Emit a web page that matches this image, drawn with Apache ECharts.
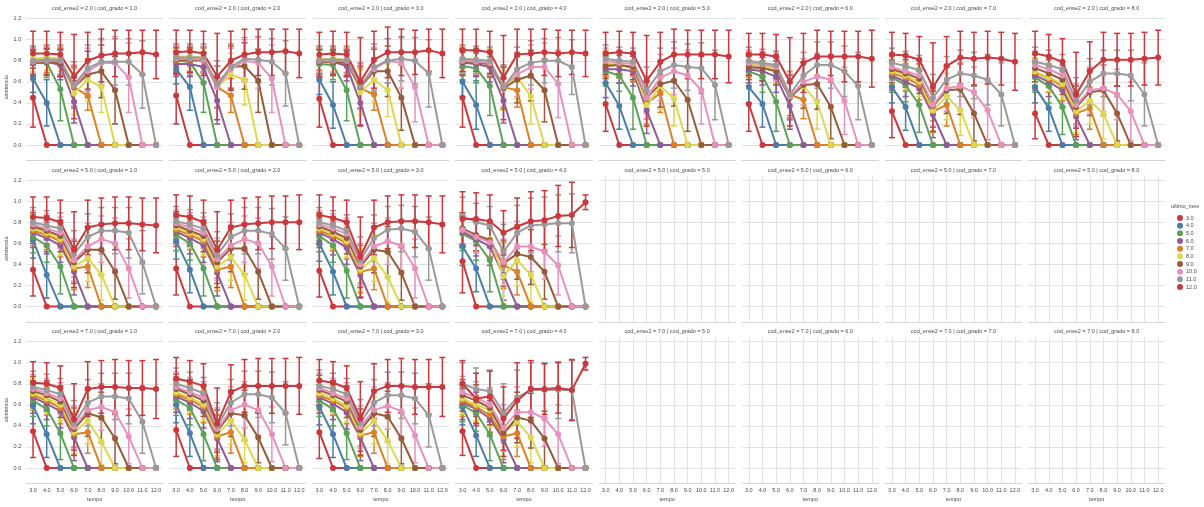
<!DOCTYPE html>
<html>
<head>
<meta charset="utf-8">
<script src="https://cdn.jsdelivr.net/npm/echarts@6/dist/echarts.min.js"></script>
<style>
html, body { margin: 0; padding: 0; background: #ffffff; }
#chart { width: 1204px; height: 507px; }
</style>
</head>
<body>
<div id="chart"></div>
<script>
// x categories (tempo) and tick values
const tempo = [3, 4, 5, 6, 7, 8, 9, 10, 11, 12];
const yTicks = [0, 0.2, 0.4, 0.6, 0.8, 1.0, 1.2];
// hue levels (ultimo_mes)
const hueLevels = ['3.0', '4.0', '5.0', '6.0', '7.0', '8.0', '9.0', '10.0', '11.0', '12.0'];
// facet levels
const enseLevels = ['2.0', '5.0', '7.0'];
const gradoLevels = ['1.0', '2.0', '3.0', '4.0', '5.0', '6.0', '7.0', '8.0'];

// Mean asistencia per hue level (rows: ultimo_mes 3..12, cols: tempo 3..12)
// and half-width of the confidence interval for each non-zero mean.
const mean_2_1 = [
  [0.45, 0, 0, 0, 0, 0, 0, 0, 0, 0],
  [0.63, 0.40, 0, 0, 0, 0, 0, 0, 0, 0],
  [0.78, 0.78, 0.53, 0, 0, 0, 0, 0, 0, 0],
  [0.78, 0.79, 0.76, 0.41, 0, 0, 0, 0, 0, 0],
  [0.80, 0.81, 0.79, 0.55, 0.47, 0, 0, 0, 0, 0],
  [0.82, 0.83, 0.82, 0.49, 0.62, 0.55, 0, 0, 0, 0],
  [0.78, 0.79, 0.78, 0.55, 0.67, 0.70, 0.52, 0, 0, 0],
  [0.79, 0.80, 0.80, 0.56, 0.70, 0.78, 0.78, 0.64, 0, 0],
  [0.80, 0.81, 0.81, 0.57, 0.73, 0.79, 0.79, 0.79, 0.67, 0],
  [0.87, 0.87, 0.86, 0.65, 0.80, 0.85, 0.87, 0.87, 0.88, 0.86]
];
const err_2_1 = [
  [0.28],
  [0.13, 0.22],
  [0.13, 0.14, 0.30],
  [0.12, 0.12, 0.14, 0.20],
  [0.12, 0.12, 0.13, 0.18, 0.14],
  [0.12, 0.12, 0.12, 0.20, 0.20, 0.24],
  [0.12, 0.12, 0.13, 0.20, 0.22, 0.25, 0.32],
  [0.13, 0.13, 0.13, 0.20, 0.22, 0.22, 0.25, 0.33],
  [0.14, 0.14, 0.14, 0.22, 0.22, 0.22, 0.22, 0.22, 0.32],
  [0.21, 0.21, 0.21, 0.40, 0.27, 0.25, 0.22, 0.22, 0.21, 0.23]
];

const mean_2_2 = [
  [0.47, 0, 0, 0, 0, 0, 0, 0, 0, 0],
  [0.72, 0.55, 0, 0, 0, 0, 0, 0, 0, 0],
  [0.80, 0.79, 0.59, 0, 0, 0, 0, 0, 0, 0],
  [0.77, 0.77, 0.74, 0.42, 0, 0, 0, 0, 0, 0],
  [0.80, 0.80, 0.80, 0.55, 0.47, 0, 0, 0, 0, 0],
  [0.84, 0.84, 0.83, 0.55, 0.67, 0.62, 0, 0, 0, 0],
  [0.81, 0.81, 0.81, 0.55, 0.74, 0.75, 0.61, 0, 0, 0],
  [0.82, 0.82, 0.81, 0.55, 0.72, 0.80, 0.78, 0.63, 0, 0],
  [0.83, 0.83, 0.83, 0.58, 0.74, 0.82, 0.81, 0.79, 0.68, 0],
  [0.88, 0.89, 0.87, 0.65, 0.80, 0.86, 0.88, 0.88, 0.89, 0.87]
];
const err_2_2 = [
  [0.27],
  [0.14, 0.22],
  [0.12, 0.13, 0.28],
  [0.12, 0.12, 0.14, 0.22],
  [0.12, 0.12, 0.12, 0.20, 0.16],
  [0.11, 0.11, 0.11, 0.20, 0.20, 0.24],
  [0.12, 0.12, 0.12, 0.20, 0.20, 0.22, 0.30],
  [0.12, 0.12, 0.12, 0.20, 0.20, 0.20, 0.24, 0.32],
  [0.13, 0.13, 0.13, 0.22, 0.22, 0.20, 0.22, 0.22, 0.31],
  [0.21, 0.20, 0.21, 0.41, 0.28, 0.24, 0.22, 0.22, 0.21, 0.23]
];

const mean_2_3 = [
  [0.44, 0, 0, 0, 0, 0, 0, 0, 0, 0],
  [0.62, 0.38, 0, 0, 0, 0, 0, 0, 0, 0],
  [0.77, 0.76, 0.52, 0, 0, 0, 0, 0, 0, 0],
  [0.79, 0.79, 0.75, 0.40, 0, 0, 0, 0, 0, 0],
  [0.80, 0.80, 0.78, 0.54, 0.48, 0, 0, 0, 0, 0],
  [0.82, 0.82, 0.81, 0.50, 0.62, 0.52, 0, 0, 0, 0],
  [0.79, 0.79, 0.78, 0.55, 0.70, 0.70, 0.45, 0, 0, 0],
  [0.80, 0.80, 0.80, 0.56, 0.72, 0.80, 0.78, 0.55, 0, 0],
  [0.81, 0.81, 0.81, 0.56, 0.74, 0.80, 0.82, 0.80, 0.68, 0],
  [0.86, 0.87, 0.86, 0.60, 0.81, 0.88, 0.88, 0.88, 0.90, 0.87]
];
const err_2_3 = [
  [0.27],
  [0.14, 0.22],
  [0.13, 0.14, 0.29],
  [0.12, 0.12, 0.14, 0.21],
  [0.12, 0.12, 0.13, 0.19, 0.15],
  [0.12, 0.12, 0.12, 0.21, 0.21, 0.25],
  [0.12, 0.12, 0.12, 0.20, 0.21, 0.24, 0.31],
  [0.12, 0.12, 0.12, 0.21, 0.21, 0.21, 0.24, 0.33],
  [0.13, 0.13, 0.13, 0.22, 0.22, 0.21, 0.21, 0.22, 0.32],
  [0.21, 0.21, 0.21, 0.42, 0.27, 0.24, 0.22, 0.21, 0.20, 0.23]
];

const mean_2_4 = [
  [0.45, 0, 0, 0, 0, 0, 0, 0, 0, 0],
  [0.60, 0.38, 0, 0, 0, 0, 0, 0, 0, 0],
  [0.75, 0.73, 0.56, 0, 0, 0, 0, 0, 0, 0],
  [0.78, 0.77, 0.74, 0.42, 0, 0, 0, 0, 0, 0],
  [0.80, 0.79, 0.77, 0.55, 0.52, 0, 0, 0, 0, 0],
  [0.82, 0.81, 0.79, 0.53, 0.65, 0.46, 0, 0, 0, 0],
  [0.79, 0.78, 0.77, 0.54, 0.62, 0.66, 0.52, 0, 0, 0],
  [0.80, 0.79, 0.78, 0.56, 0.67, 0.74, 0.74, 0.58, 0, 0],
  [0.82, 0.81, 0.80, 0.55, 0.72, 0.78, 0.80, 0.80, 0.74, 0],
  [0.90, 0.90, 0.88, 0.64, 0.86, 0.87, 0.88, 0.87, 0.88, 0.87]
];
const err_2_4 = [
  [0.28],
  [0.14, 0.23],
  [0.13, 0.14, 0.28],
  [0.12, 0.12, 0.14, 0.21],
  [0.12, 0.12, 0.13, 0.19, 0.16],
  [0.12, 0.12, 0.12, 0.20, 0.21, 0.26],
  [0.12, 0.12, 0.12, 0.20, 0.22, 0.24, 0.30],
  [0.12, 0.12, 0.12, 0.20, 0.21, 0.21, 0.23, 0.32],
  [0.13, 0.13, 0.13, 0.21, 0.21, 0.21, 0.21, 0.22, 0.26],
  [0.20, 0.20, 0.20, 0.40, 0.24, 0.23, 0.22, 0.22, 0.21, 0.22]
];

const mean_2_5 = [
  [0.39, 0, 0, 0, 0, 0, 0, 0, 0, 0],
  [0.59, 0.37, 0, 0, 0, 0, 0, 0, 0, 0],
  [0.70, 0.66, 0.45, 0, 0, 0, 0, 0, 0, 0],
  [0.72, 0.72, 0.70, 0.33, 0, 0, 0, 0, 0, 0],
  [0.77, 0.76, 0.73, 0.40, 0.49, 0, 0, 0, 0, 0],
  [0.78, 0.76, 0.74, 0.38, 0.56, 0.44, 0, 0, 0, 0],
  [0.75, 0.76, 0.74, 0.45, 0.58, 0.61, 0.43, 0, 0, 0],
  [0.80, 0.78, 0.77, 0.45, 0.64, 0.70, 0.66, 0.52, 0, 0],
  [0.82, 0.80, 0.79, 0.52, 0.70, 0.76, 0.74, 0.73, 0.57, 0],
  [0.87, 0.88, 0.87, 0.61, 0.79, 0.86, 0.86, 0.86, 0.86, 0.84]
];
const err_2_5 = [
  [0.26],
  [0.14, 0.22],
  [0.14, 0.15, 0.30],
  [0.13, 0.13, 0.14, 0.22],
  [0.12, 0.12, 0.13, 0.20, 0.18],
  [0.12, 0.12, 0.12, 0.20, 0.22, 0.26],
  [0.12, 0.12, 0.12, 0.20, 0.22, 0.24, 0.30],
  [0.12, 0.12, 0.12, 0.20, 0.22, 0.22, 0.24, 0.32],
  [0.13, 0.13, 0.13, 0.22, 0.22, 0.22, 0.22, 0.24, 0.33],
  [0.20, 0.20, 0.20, 0.43, 0.28, 0.24, 0.23, 0.23, 0.23, 0.25]
];

const mean_2_6 = [
  [0.39, 0, 0, 0, 0, 0, 0, 0, 0, 0],
  [0.55, 0.39, 0, 0, 0, 0, 0, 0, 0, 0],
  [0.70, 0.65, 0.41, 0, 0, 0, 0, 0, 0, 0],
  [0.72, 0.70, 0.65, 0.37, 0, 0, 0, 0, 0, 0],
  [0.76, 0.75, 0.72, 0.48, 0.43, 0, 0, 0, 0, 0],
  [0.77, 0.75, 0.72, 0.47, 0.56, 0.41, 0, 0, 0, 0],
  [0.74, 0.73, 0.70, 0.45, 0.57, 0.58, 0.36, 0, 0, 0],
  [0.78, 0.77, 0.74, 0.46, 0.60, 0.65, 0.62, 0.42, 0, 0],
  [0.80, 0.78, 0.76, 0.48, 0.66, 0.76, 0.76, 0.70, 0.56, 0],
  [0.86, 0.86, 0.84, 0.60, 0.78, 0.84, 0.84, 0.84, 0.84, 0.82]
];
const err_2_6 = [
  [0.26],
  [0.15, 0.22],
  [0.14, 0.15, 0.28],
  [0.13, 0.13, 0.15, 0.22],
  [0.12, 0.12, 0.13, 0.20, 0.18],
  [0.12, 0.12, 0.13, 0.21, 0.22, 0.26],
  [0.12, 0.12, 0.13, 0.21, 0.22, 0.24, 0.30],
  [0.12, 0.12, 0.13, 0.21, 0.22, 0.22, 0.24, 0.32],
  [0.13, 0.13, 0.13, 0.22, 0.22, 0.22, 0.22, 0.24, 0.32],
  [0.20, 0.20, 0.21, 0.42, 0.28, 0.25, 0.24, 0.24, 0.24, 0.27]
];

const mean_2_7 = [
  [0.32, 0, 0, 0, 0, 0, 0, 0, 0, 0],
  [0.55, 0.36, 0, 0, 0, 0, 0, 0, 0, 0],
  [0.64, 0.57, 0.38, 0, 0, 0, 0, 0, 0, 0],
  [0.66, 0.60, 0.54, 0.29, 0, 0, 0, 0, 0, 0],
  [0.68, 0.64, 0.57, 0.32, 0.38, 0, 0, 0, 0, 0],
  [0.70, 0.66, 0.60, 0.33, 0.46, 0.33, 0, 0, 0, 0],
  [0.72, 0.68, 0.63, 0.37, 0.52, 0.53, 0.30, 0, 0, 0],
  [0.74, 0.70, 0.66, 0.38, 0.54, 0.56, 0.50, 0.33, 0, 0],
  [0.78, 0.75, 0.71, 0.45, 0.62, 0.68, 0.66, 0.62, 0.48, 0],
  [0.86, 0.85, 0.81, 0.55, 0.75, 0.83, 0.82, 0.83, 0.82, 0.79]
];
const err_2_7 = [
  [0.25],
  [0.15, 0.22],
  [0.14, 0.16, 0.26],
  [0.14, 0.14, 0.16, 0.22],
  [0.13, 0.13, 0.14, 0.20, 0.20],
  [0.13, 0.13, 0.14, 0.20, 0.22, 0.24],
  [0.13, 0.13, 0.14, 0.20, 0.22, 0.24, 0.26],
  [0.13, 0.13, 0.14, 0.20, 0.22, 0.22, 0.24, 0.28],
  [0.14, 0.14, 0.14, 0.22, 0.22, 0.22, 0.22, 0.24, 0.30],
  [0.21, 0.21, 0.22, 0.42, 0.28, 0.25, 0.25, 0.25, 0.25, 0.27]
];

const mean_2_8 = [
  [0.30, 0, 0, 0, 0, 0, 0, 0, 0, 0],
  [0.55, 0.35, 0, 0, 0, 0, 0, 0, 0, 0],
  [0.64, 0.56, 0.36, 0, 0, 0, 0, 0, 0, 0],
  [0.66, 0.60, 0.52, 0.27, 0, 0, 0, 0, 0, 0],
  [0.69, 0.63, 0.56, 0.30, 0.35, 0, 0, 0, 0, 0],
  [0.70, 0.64, 0.58, 0.32, 0.42, 0.30, 0, 0, 0, 0],
  [0.73, 0.68, 0.62, 0.36, 0.50, 0.52, 0.30, 0, 0, 0],
  [0.76, 0.72, 0.66, 0.38, 0.52, 0.54, 0.48, 0.32, 0, 0],
  [0.79, 0.76, 0.72, 0.42, 0.60, 0.68, 0.68, 0.66, 0.48, 0],
  [0.87, 0.84, 0.79, 0.48, 0.70, 0.81, 0.81, 0.81, 0.82, 0.83]
];
const err_2_8 = [
  [0.24],
  [0.15, 0.22],
  [0.14, 0.16, 0.26],
  [0.14, 0.14, 0.16, 0.22],
  [0.13, 0.13, 0.14, 0.20, 0.20],
  [0.13, 0.13, 0.14, 0.20, 0.22, 0.24],
  [0.13, 0.13, 0.14, 0.20, 0.22, 0.24, 0.26],
  [0.13, 0.13, 0.14, 0.20, 0.22, 0.22, 0.24, 0.28],
  [0.14, 0.14, 0.14, 0.22, 0.22, 0.22, 0.22, 0.24, 0.30],
  [0.21, 0.21, 0.22, 0.40, 0.28, 0.26, 0.25, 0.25, 0.25, 0.26]
];

const mean_5_1 = [
  [0.35, 0, 0, 0, 0, 0, 0, 0, 0, 0],
  [0.63, 0.30, 0, 0, 0, 0, 0, 0, 0, 0],
  [0.66, 0.58, 0.38, 0, 0, 0, 0, 0, 0, 0],
  [0.70, 0.65, 0.58, 0.33, 0, 0, 0, 0, 0, 0],
  [0.72, 0.68, 0.62, 0.36, 0.38, 0, 0, 0, 0, 0],
  [0.74, 0.70, 0.64, 0.38, 0.46, 0.30, 0, 0, 0, 0],
  [0.76, 0.72, 0.67, 0.42, 0.54, 0.54, 0.33, 0, 0, 0],
  [0.78, 0.74, 0.70, 0.44, 0.57, 0.64, 0.60, 0.36, 0, 0],
  [0.80, 0.77, 0.74, 0.50, 0.66, 0.72, 0.72, 0.70, 0.42, 0],
  [0.85, 0.84, 0.80, 0.54, 0.75, 0.78, 0.79, 0.79, 0.78, 0.77]
];
const err_5_1 = [
  [0.25],
  [0.17, 0.22],
  [0.15, 0.16, 0.26],
  [0.14, 0.15, 0.16, 0.22],
  [0.14, 0.14, 0.15, 0.20, 0.20],
  [0.13, 0.14, 0.15, 0.20, 0.22, 0.24],
  [0.13, 0.14, 0.15, 0.20, 0.22, 0.24, 0.26],
  [0.13, 0.14, 0.15, 0.20, 0.22, 0.22, 0.24, 0.28],
  [0.14, 0.14, 0.15, 0.22, 0.22, 0.22, 0.22, 0.24, 0.30],
  [0.19, 0.20, 0.21, 0.36, 0.26, 0.25, 0.25, 0.25, 0.25, 0.26]
];

const mean_5_2 = [
  [0.36, 0, 0, 0, 0, 0, 0, 0, 0, 0],
  [0.62, 0.35, 0, 0, 0, 0, 0, 0, 0, 0],
  [0.68, 0.60, 0.36, 0, 0, 0, 0, 0, 0, 0],
  [0.71, 0.65, 0.58, 0.32, 0, 0, 0, 0, 0, 0],
  [0.73, 0.68, 0.62, 0.35, 0.38, 0, 0, 0, 0, 0],
  [0.75, 0.70, 0.64, 0.38, 0.47, 0.30, 0, 0, 0, 0],
  [0.77, 0.72, 0.67, 0.42, 0.55, 0.55, 0.33, 0, 0, 0],
  [0.79, 0.75, 0.70, 0.45, 0.58, 0.64, 0.60, 0.38, 0, 0],
  [0.81, 0.78, 0.74, 0.49, 0.66, 0.72, 0.72, 0.69, 0.55, 0],
  [0.87, 0.85, 0.80, 0.54, 0.75, 0.78, 0.79, 0.80, 0.80, 0.80]
];
const err_5_2 = [
  [0.25],
  [0.17, 0.22],
  [0.15, 0.16, 0.26],
  [0.14, 0.15, 0.16, 0.22],
  [0.14, 0.14, 0.15, 0.20, 0.20],
  [0.13, 0.14, 0.15, 0.20, 0.22, 0.24],
  [0.13, 0.14, 0.15, 0.20, 0.22, 0.24, 0.26],
  [0.13, 0.14, 0.15, 0.20, 0.22, 0.22, 0.24, 0.28],
  [0.14, 0.14, 0.15, 0.22, 0.22, 0.22, 0.22, 0.24, 0.30],
  [0.19, 0.20, 0.21, 0.36, 0.26, 0.25, 0.25, 0.25, 0.25, 0.26]
];

const mean_5_3 = [
  [0.34, 0, 0, 0, 0, 0, 0, 0, 0, 0],
  [0.60, 0.33, 0, 0, 0, 0, 0, 0, 0, 0],
  [0.67, 0.58, 0.34, 0, 0, 0, 0, 0, 0, 0],
  [0.70, 0.64, 0.56, 0.30, 0, 0, 0, 0, 0, 0],
  [0.72, 0.67, 0.60, 0.33, 0.36, 0, 0, 0, 0, 0],
  [0.74, 0.69, 0.62, 0.35, 0.46, 0.28, 0, 0, 0, 0],
  [0.76, 0.71, 0.65, 0.38, 0.54, 0.52, 0.32, 0, 0, 0],
  [0.78, 0.74, 0.69, 0.40, 0.57, 0.62, 0.58, 0.36, 0, 0],
  [0.80, 0.77, 0.72, 0.44, 0.65, 0.73, 0.74, 0.71, 0.55, 0],
  [0.87, 0.84, 0.80, 0.47, 0.75, 0.80, 0.81, 0.81, 0.80, 0.78]
];
const err_5_3 = [
  [0.25],
  [0.17, 0.22],
  [0.15, 0.16, 0.26],
  [0.14, 0.15, 0.16, 0.22],
  [0.14, 0.14, 0.15, 0.20, 0.20],
  [0.13, 0.14, 0.15, 0.20, 0.22, 0.24],
  [0.13, 0.14, 0.15, 0.20, 0.22, 0.24, 0.26],
  [0.13, 0.14, 0.15, 0.20, 0.22, 0.22, 0.24, 0.28],
  [0.14, 0.14, 0.15, 0.22, 0.22, 0.22, 0.22, 0.24, 0.30],
  [0.19, 0.20, 0.21, 0.38, 0.26, 0.25, 0.25, 0.25, 0.25, 0.27]
];

const mean_5_4 = [
  [0.43, 0, 0, 0, 0, 0, 0, 0, 0, 0],
  [0.57, 0.36, 0, 0, 0, 0, 0, 0, 0, 0],
  [0.69, 0.62, 0.44, 0, 0, 0, 0, 0, 0, 0],
  [0.71, 0.64, 0.57, 0.30, 0, 0, 0, 0, 0, 0],
  [0.74, 0.67, 0.62, 0.39, 0.33, 0, 0, 0, 0, 0],
  [0.73, 0.67, 0.64, 0.29, 0.44, 0.30, 0, 0, 0, 0],
  [0.74, 0.68, 0.63, 0.41, 0.50, 0.47, 0.33, 0, 0, 0],
  [0.73, 0.66, 0.61, 0.42, 0.57, 0.57, 0.52, 0.39, 0, 0],
  [0.86, 0.80, 0.77, 0.52, 0.70, 0.77, 0.78, 0.79, 0.79, 0],
  [0.83, 0.83, 0.81, 0.70, 0.76, 0.81, 0.82, 0.86, 0.87, 0.99]
];
const err_5_4 = [
  [0.30],
  [0.18, 0.22],
  [0.16, 0.18, 0.30],
  [0.15, 0.16, 0.18, 0.24],
  [0.15, 0.15, 0.16, 0.22, 0.22],
  [0.15, 0.15, 0.16, 0.26, 0.24, 0.26],
  [0.15, 0.15, 0.16, 0.22, 0.24, 0.26, 0.26],
  [0.15, 0.15, 0.16, 0.22, 0.24, 0.24, 0.26, 0.28],
  [0.18, 0.18, 0.18, 0.26, 0.26, 0.26, 0.26, 0.27, 0.28],
  [0.26, 0.25, 0.25, 0.21, 0.27, 0.28, 0.28, 0.29, 0.31, 0.07]
];

const mean_7_1 = [
  [0.35, 0, 0, 0, 0, 0, 0, 0, 0, 0],
  [0.59, 0.32, 0, 0, 0, 0, 0, 0, 0, 0],
  [0.64, 0.56, 0.33, 0, 0, 0, 0, 0, 0, 0],
  [0.67, 0.61, 0.54, 0.29, 0, 0, 0, 0, 0, 0],
  [0.69, 0.64, 0.57, 0.32, 0.34, 0, 0, 0, 0, 0],
  [0.71, 0.66, 0.60, 0.34, 0.45, 0.25, 0, 0, 0, 0],
  [0.73, 0.69, 0.63, 0.37, 0.52, 0.48, 0.28, 0, 0, 0],
  [0.75, 0.71, 0.66, 0.39, 0.55, 0.58, 0.53, 0.30, 0, 0],
  [0.77, 0.74, 0.70, 0.42, 0.62, 0.68, 0.68, 0.66, 0.44, 0],
  [0.81, 0.80, 0.76, 0.46, 0.75, 0.77, 0.77, 0.76, 0.76, 0.75]
];
const err_7_1 = [
  [0.25],
  [0.17, 0.22],
  [0.15, 0.16, 0.25],
  [0.15, 0.15, 0.16, 0.22],
  [0.14, 0.14, 0.15, 0.20, 0.20],
  [0.14, 0.14, 0.15, 0.20, 0.22, 0.22],
  [0.14, 0.14, 0.15, 0.20, 0.22, 0.24, 0.24],
  [0.14, 0.14, 0.15, 0.20, 0.22, 0.22, 0.24, 0.26],
  [0.15, 0.15, 0.15, 0.22, 0.22, 0.22, 0.22, 0.24, 0.30],
  [0.20, 0.20, 0.21, 0.34, 0.26, 0.25, 0.26, 0.26, 0.26, 0.28]
];

const mean_7_2 = [
  [0.36, 0, 0, 0, 0, 0, 0, 0, 0, 0],
  [0.60, 0.33, 0, 0, 0, 0, 0, 0, 0, 0],
  [0.65, 0.57, 0.32, 0, 0, 0, 0, 0, 0, 0],
  [0.68, 0.62, 0.54, 0.28, 0, 0, 0, 0, 0, 0],
  [0.70, 0.65, 0.58, 0.30, 0.34, 0, 0, 0, 0, 0],
  [0.72, 0.67, 0.60, 0.32, 0.45, 0.27, 0, 0, 0, 0],
  [0.75, 0.70, 0.64, 0.35, 0.52, 0.50, 0.29, 0, 0, 0],
  [0.77, 0.72, 0.67, 0.37, 0.55, 0.60, 0.55, 0.32, 0, 0],
  [0.80, 0.76, 0.71, 0.40, 0.62, 0.70, 0.70, 0.67, 0.52, 0],
  [0.85, 0.82, 0.78, 0.42, 0.72, 0.78, 0.78, 0.78, 0.78, 0.78]
];
const err_7_2 = [
  [0.25],
  [0.17, 0.22],
  [0.15, 0.16, 0.25],
  [0.15, 0.15, 0.16, 0.22],
  [0.14, 0.14, 0.15, 0.20, 0.20],
  [0.14, 0.14, 0.15, 0.20, 0.22, 0.22],
  [0.14, 0.14, 0.15, 0.20, 0.22, 0.24, 0.24],
  [0.14, 0.14, 0.15, 0.20, 0.22, 0.22, 0.24, 0.26],
  [0.15, 0.15, 0.15, 0.22, 0.22, 0.22, 0.22, 0.24, 0.30],
  [0.20, 0.20, 0.21, 0.34, 0.26, 0.25, 0.26, 0.26, 0.26, 0.27]
];

const mean_7_3 = [
  [0.34, 0, 0, 0, 0, 0, 0, 0, 0, 0],
  [0.58, 0.32, 0, 0, 0, 0, 0, 0, 0, 0],
  [0.64, 0.56, 0.33, 0, 0, 0, 0, 0, 0, 0],
  [0.67, 0.61, 0.53, 0.29, 0, 0, 0, 0, 0, 0],
  [0.69, 0.64, 0.57, 0.31, 0.34, 0, 0, 0, 0, 0],
  [0.71, 0.66, 0.59, 0.33, 0.45, 0.26, 0, 0, 0, 0],
  [0.74, 0.69, 0.63, 0.36, 0.52, 0.49, 0.28, 0, 0, 0],
  [0.76, 0.71, 0.66, 0.39, 0.55, 0.59, 0.54, 0.31, 0, 0],
  [0.78, 0.75, 0.70, 0.43, 0.62, 0.69, 0.69, 0.66, 0.50, 0],
  [0.83, 0.81, 0.76, 0.47, 0.73, 0.78, 0.78, 0.77, 0.77, 0.77]
];
const err_7_3 = [
  [0.25],
  [0.17, 0.22],
  [0.15, 0.16, 0.25],
  [0.15, 0.15, 0.16, 0.22],
  [0.14, 0.14, 0.15, 0.20, 0.20],
  [0.14, 0.14, 0.15, 0.20, 0.22, 0.22],
  [0.14, 0.14, 0.15, 0.20, 0.22, 0.24, 0.24],
  [0.14, 0.14, 0.15, 0.20, 0.22, 0.22, 0.24, 0.26],
  [0.15, 0.15, 0.15, 0.22, 0.22, 0.22, 0.22, 0.24, 0.30],
  [0.20, 0.20, 0.21, 0.35, 0.26, 0.25, 0.26, 0.26, 0.26, 0.28]
];

const mean_7_4 = [
  [0.35, 0, 0, 0, 0, 0, 0, 0, 0, 0],
  [0.58, 0.31, 0, 0, 0, 0, 0, 0, 0, 0],
  [0.60, 0.52, 0.32, 0, 0, 0, 0, 0, 0, 0],
  [0.62, 0.56, 0.47, 0.27, 0, 0, 0, 0, 0, 0],
  [0.64, 0.58, 0.50, 0.30, 0.33, 0, 0, 0, 0, 0],
  [0.66, 0.60, 0.55, 0.33, 0.44, 0.29, 0, 0, 0, 0],
  [0.69, 0.64, 0.57, 0.33, 0.48, 0.45, 0.28, 0, 0, 0],
  [0.72, 0.67, 0.60, 0.38, 0.53, 0.53, 0.47, 0.32, 0, 0],
  [0.80, 0.75, 0.73, 0.52, 0.67, 0.74, 0.74, 0.74, 0.74, 0],
  [0.80, 0.66, 0.68, 0.47, 0.64, 0.75, 0.75, 0.76, 0.74, 0.99]
];
const err_7_4 = [
  [0.23],
  [0.17, 0.20],
  [0.16, 0.17, 0.25],
  [0.16, 0.16, 0.17, 0.22],
  [0.15, 0.15, 0.16, 0.22, 0.22],
  [0.15, 0.15, 0.16, 0.22, 0.24, 0.24],
  [0.15, 0.15, 0.16, 0.22, 0.24, 0.26, 0.26],
  [0.15, 0.15, 0.16, 0.22, 0.24, 0.24, 0.26, 0.28],
  [0.20, 0.20, 0.20, 0.28, 0.26, 0.26, 0.26, 0.27, 0.28],
  [0.22, 0.24, 0.24, 0.30, 0.36, 0.27, 0.24, 0.24, 0.29, 0.06]
];

// facets that contain observations: "ense|grado" -> [means, errors]
const facetData = {
  '2.0|1.0': [mean_2_1, err_2_1], '2.0|2.0': [mean_2_2, err_2_2],
  '2.0|3.0': [mean_2_3, err_2_3], '2.0|4.0': [mean_2_4, err_2_4],
  '2.0|5.0': [mean_2_5, err_2_5], '2.0|6.0': [mean_2_6, err_2_6],
  '2.0|7.0': [mean_2_7, err_2_7], '2.0|8.0': [mean_2_8, err_2_8],
  '5.0|1.0': [mean_5_1, err_5_1], '5.0|2.0': [mean_5_2, err_5_2],
  '5.0|3.0': [mean_5_3, err_5_3], '5.0|4.0': [mean_5_4, err_5_4],
  '7.0|1.0': [mean_7_1, err_7_1], '7.0|2.0': [mean_7_2, err_7_2],
  '7.0|3.0': [mean_7_3, err_7_3], '7.0|4.0': [mean_7_4, err_7_4]
};

// ---- styling / layout ----
const palette = ['#c9383c', '#4a7da8', '#5ba259', '#905b98', '#dd8026',
                 '#dcd850', '#955b3a', '#e592bd', '#9a9a9a', '#c9383c'];
const FONT = 'Liberation Sans, Arial, sans-serif';
const TEXT = '#4a4a4a';
const GRID_COLOR = '#e2e2e2';
const SPINE_COLOR = '#d4d4d4';
const PANEL_LEFT0 = 26.2, PANEL_STEP = 143.15, PANEL_W = 136.7, PANEL_H = 146.4;
const ROW_TOPS = [13.9, 175.4, 336.9];
const Y_MIN = -0.145, Y_MAX = 1.245;

function drawErrorBar(params, api) {
  const x = api.value(0);
  const lo = api.coord([x, api.value(1)]);
  const hi = api.coord([x, api.value(2)]);
  const style = { stroke: api.visual('color'), lineWidth: 1.5 };
  const cap = 3;
  return {
    type: 'group',
    children: [
      { type: 'line', shape: { x1: lo[0], y1: lo[1], x2: hi[0], y2: hi[1] }, style: style },
      { type: 'line', shape: { x1: lo[0] - cap, y1: lo[1], x2: lo[0] + cap, y2: lo[1] }, style: style },
      { type: 'line', shape: { x1: hi[0] - cap, y1: hi[1], x2: hi[0] + cap, y2: hi[1] }, style: style }
    ]
  };
}

const grids = [], xAxes = [], yAxes = [], series = [], graphics = [];

enseLevels.forEach((ense, r) => {
  gradoLevels.forEach((grado, c) => {
    const idx = grids.length;
    const left = PANEL_LEFT0 + c * PANEL_STEP;
    const top = ROW_TOPS[r];
    const facet = facetData[ense + '|' + grado];
    const isBottom = r === enseLevels.length - 1;
    const isFirstCol = c === 0;

    grids.push({ left: left, top: top, width: PANEL_W, height: PANEL_H, containLabel: false });

    xAxes.push({
      type: 'value', gridIndex: idx, min: 2.5, max: 12.5,
      axisLine: { show: true, onZero: false, lineStyle: { color: SPINE_COLOR, width: 1 } },
      axisTick: { show: false, customValues: tempo },
      axisLabel: {
        show: isBottom, customValues: tempo, margin: 4,
        fontSize: 5.5, fontFamily: FONT, color: TEXT,
        formatter: v => v.toFixed(1)
      },
      splitLine: { show: !facet, lineStyle: { color: GRID_COLOR, width: 1 } },
      name: isBottom ? 'tempo' : '', nameLocation: 'middle', nameGap: 13,
      nameTextStyle: { fontSize: 5.5, fontFamily: FONT, color: TEXT }
    });

    yAxes.push({
      type: 'value', gridIndex: idx, min: Y_MIN, max: Y_MAX,
      axisLine: { show: false },
      axisTick: { show: false, customValues: yTicks },
      axisLabel: {
        show: isFirstCol, customValues: yTicks, margin: 5,
        fontSize: 5.5, fontFamily: FONT, color: TEXT,
        formatter: v => v.toFixed(1)
      },
      splitLine: { show: true, lineStyle: { color: GRID_COLOR, width: 1 } },
      name: isFirstCol ? 'asistencia' : '', nameLocation: 'middle', nameRotate: 90, nameGap: 15,
      nameTextStyle: { fontSize: 5.5, fontFamily: FONT, color: TEXT }
    });

    // facet title
    graphics.push({
      type: 'text', x: left + PANEL_W / 2, y: top - 5, silent: true,
      style: {
        text: 'cod_ense2 = ' + ense + ' | cod_grado = ' + grado,
        fontSize: 5.5, fontFamily: FONT, fill: TEXT,
        align: 'center', verticalAlign: 'middle'
      }
    });

    if (!facet) return;
    const means = facet[0], errs = facet[1];
    hueLevels.forEach((hue, k) => {
      const color = palette[k];
      const m = means[k];
      series.push({
        type: 'line', name: hue, xAxisIndex: idx, yAxisIndex: idx,
        data: tempo.map((t, i) => [t, m[i]]),
        symbol: 'circle', symbolSize: 6, showSymbol: true, showAllSymbol: true,
        lineStyle: { color: color, width: 2 },
        itemStyle: { color: color },
        emphasis: { disabled: true }, silent: true, animation: false
      });
      series.push({
        type: 'custom', name: hue, xAxisIndex: idx, yAxisIndex: idx,
        data: errs[k].map((e, i) => [tempo[i], m[i] - e, m[i] + e]),
        encode: { x: 0, y: [1, 2] },
        renderItem: drawErrorBar,
        itemStyle: { color: color }, silent: true, animation: false
      });
    });
  });
});

// legend title
graphics.push({
  type: 'text', x: 1185, y: 206.5, silent: true,
  style: {
    text: 'ultimo_mes',
    fontSize: 5.5, fontFamily: FONT, fill: TEXT,
    align: 'center', verticalAlign: 'middle'
  }
});

const chart = echarts.init(document.getElementById('chart'), null, { renderer: 'canvas' });
chart.setOption({
  animation: false,
  backgroundColor: '#ffffff',
  grid: grids,
  xAxis: xAxes,
  yAxis: yAxes,
  legend: {
    data: hueLevels.map((h, k) => ({ name: h, itemStyle: { color: palette[k] } })),
    orient: 'vertical', left: 1177, top: 215,
    icon: 'circle', itemWidth: 6, itemHeight: 6, itemGap: 1.67,
    selectedMode: false,
    textStyle: { fontSize: 5.5, fontFamily: FONT, color: TEXT, lineHeight: 6, padding: [0, 0, 0, -2] },
    padding: 0
  },
  graphic: graphics,
  series: series
});
</script>
</body>
</html>
